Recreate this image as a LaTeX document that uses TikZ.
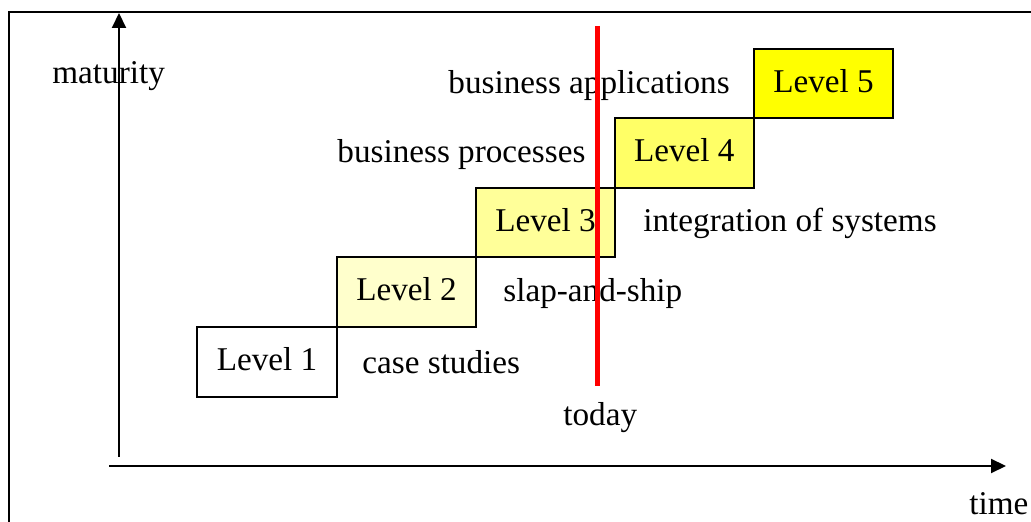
\documentclass[tikz,border=0pt]{standalone}
\usepackage{fontspec}
\setmainfont{Liberation Serif}
\usetikzlibrary{arrows.meta}
\definecolor{lv2}{HTML}{FFFFCC}
\definecolor{lv3}{HTML}{FFFF99}
\definecolor{lv4}{HTML}{FFFF66}
\definecolor{lv5}{HTML}{FFFF00}
\begin{document}
\begin{tikzpicture}[x=0.5pt,y=-0.5pt,
  every node/.style={font=\fontsize{16.6pt}{20pt}\selectfont, inner sep=0pt},
  levelbox/.style={draw=black, line width=1pt, minimum width=69.75pt, minimum height=34.75pt, text height=11pt, text depth=2pt},
  lbl/.style={anchor=base west},
  axis/.style={line width=1pt, -{Triangle[length=7.5pt,width=7pt]}},
]
\useasboundingbox (0,0) rectangle (1031,522);
\clip (0,0) rectangle (1031,522);
% frame
\draw[line width=1pt] (9,540) -- (9,12) -- (1050,12);
% axes
\coordinate (ybot) at (119,457);
\coordinate (ytop) at (119,13);
\coordinate (xl) at (109,466);
\coordinate (xr) at (1006,466);
\draw[axis] (ybot) -- (ytop);
\draw[axis] (xl) -- (xr);
% level boxes
\node[levelbox, fill=white] (l1) at (267,362) {Level 1};
\node[levelbox, fill=lv2] (l2) at (406.5,292) {Level 2};
\node[levelbox, fill=lv3] (l3) at (545.5,222.3) {Level 3};
\node[levelbox, fill=lv4] (l4) at (684.3,153) {Level 4};
\node[levelbox, fill=lv5] (l5) at (823.5,83.3) {Level 5};
% labels
\node[lbl] (mat) at (52,84) {maturity};
\node[lbl] (ba) at (448,94) {business applications};
\node[lbl] (bp) at (337,163) {business processes};
\node[lbl] (ios) at (643,232) {integration of systems};
\node[lbl] (sas) at (503,302) {slap-and-ship};
\node[lbl] (cs) at (362,374) {case studies};
\node[lbl] (tod) at (563,425.5) {today};
\node[lbl] (tim) at (969,514) {time};
% today line
\coordinate (rt) at (597.5,26);
\coordinate (rb) at (597.5,386);
\draw[red, line width=2.25pt] (rt) -- (rb);
\end{tikzpicture}
\end{document}
